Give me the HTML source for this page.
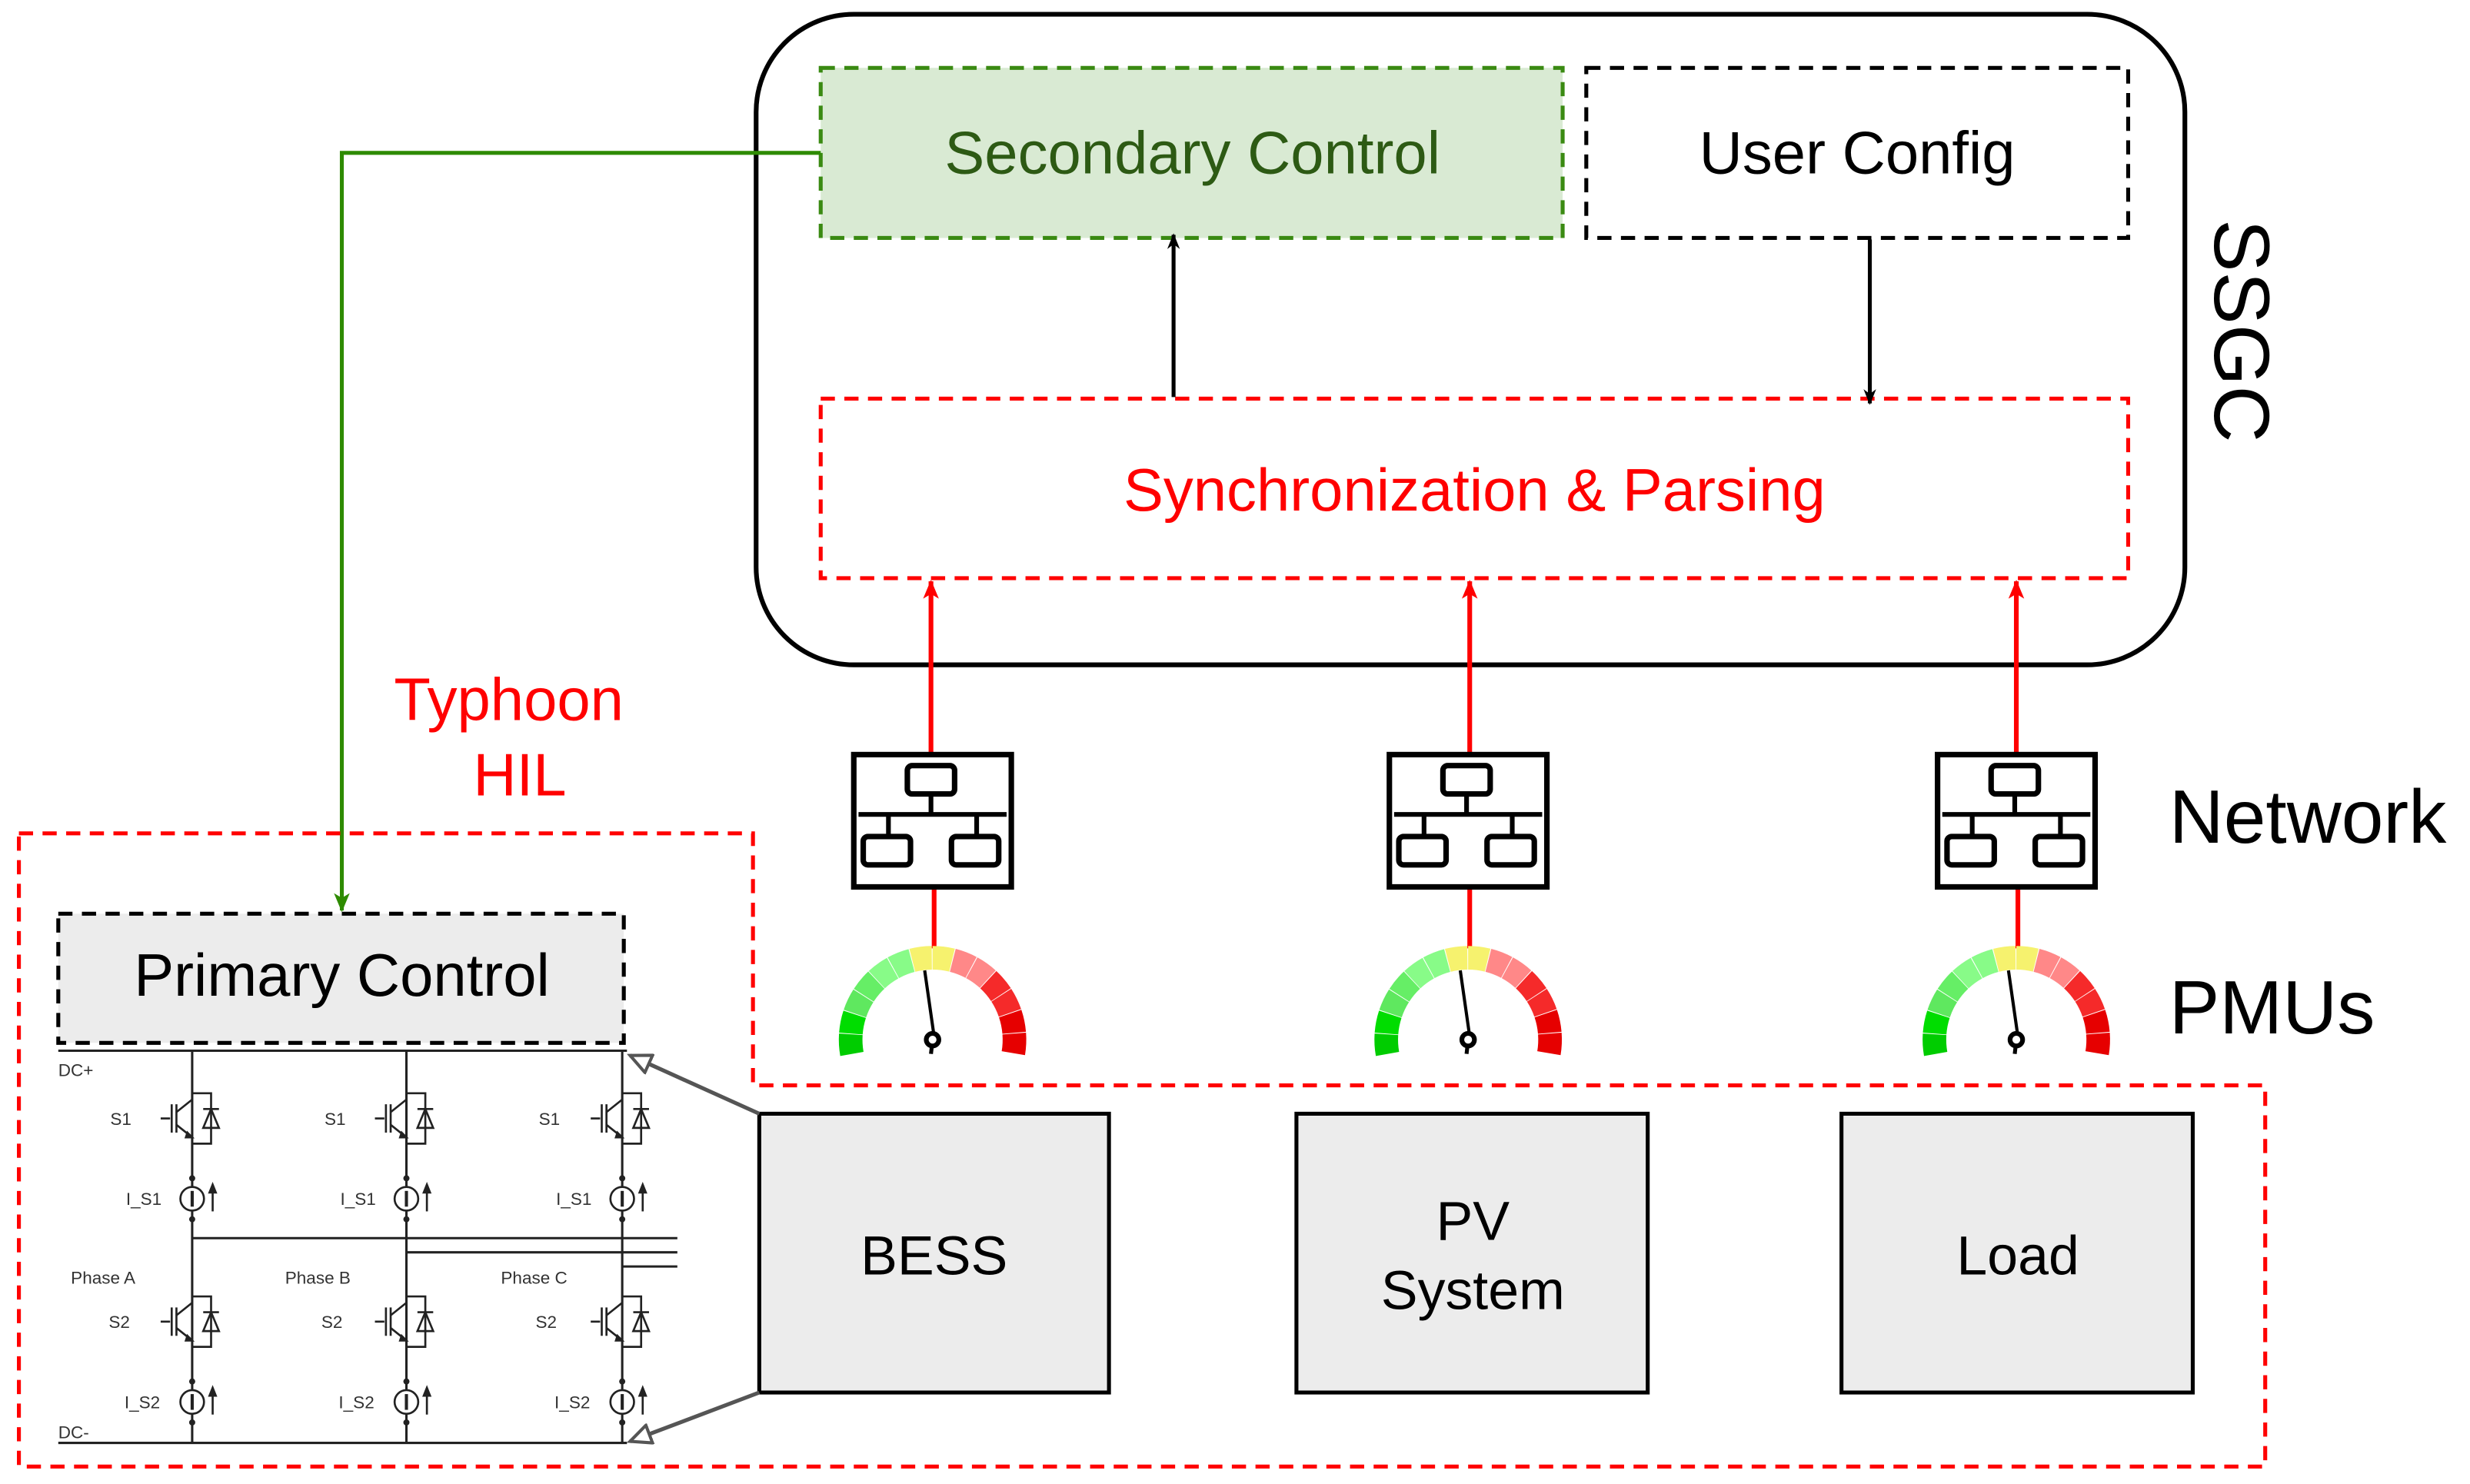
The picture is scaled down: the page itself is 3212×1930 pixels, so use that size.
<!DOCTYPE html>
<html><head><meta charset="utf-8"><style>html,body{margin:0;padding:0;background:#fff}svg{display:block}</style></head>
<body>
<svg width="3212" height="1930" viewBox="0 0 1568 942" xmlns="http://www.w3.org/2000/svg" font-family="'Liberation Sans', sans-serif">
<defs>
<marker id="ab" markerWidth="10" markerHeight="10" refX="9" refY="5" orient="auto" markerUnits="userSpaceOnUse"><path d="M0,1 L10,5 L0,9 L3,5z" fill="#000"/></marker>
<marker id="ar" markerWidth="12" markerHeight="12" refX="11" refY="6" orient="auto" markerUnits="userSpaceOnUse"><path d="M0,1 L12,6 L0,11 L3,6z" fill="#f00"/></marker>
<marker id="ag" markerWidth="12" markerHeight="12" refX="11" refY="6" orient="auto" markerUnits="userSpaceOnUse"><path d="M0,1 L12,6 L0,11 L3,6z" fill="#2e8b00"/></marker>
<marker id="ao" markerWidth="16" markerHeight="14" refX="14" refY="7" orient="auto" markerUnits="userSpaceOnUse"><path d="M1,1 L14,7 L1,13z" fill="#fff" stroke="#555" stroke-width="2"/></marker>
<g id="net">
<rect x="-50" y="-42" width="100" height="84" fill="#fff" stroke="#000" stroke-width="3.5"/>
<rect x="-16" y="-35" width="30" height="18" rx="3" fill="none" stroke="#000" stroke-width="3.5"/>
<line x1="-1" y1="-17" x2="-1" y2="-4" stroke="#000" stroke-width="3"/>
<line x1="-47" y1="-4" x2="47" y2="-4" stroke="#000" stroke-width="3"/>
<line x1="-28" y1="-4" x2="-28" y2="10" stroke="#000" stroke-width="3"/>
<line x1="28" y1="-4" x2="28" y2="10" stroke="#000" stroke-width="3"/>
<rect x="-44" y="10" width="30" height="18" rx="3" fill="none" stroke="#000" stroke-width="3.5"/>
<rect x="12" y="10" width="30" height="18" rx="3" fill="none" stroke="#000" stroke-width="3.5"/>
</g>
<g id="gauge" fill="none" stroke-width="15">
<circle r="52" stroke="#00cc00" stroke-dasharray="12.5 400" transform="rotate(170)"/>
<circle r="52" stroke="#00dd00" stroke-dasharray="12.5 400" transform="rotate(184.3)"/>
<circle r="52" stroke="#5fe85f" stroke-dasharray="12.5 400" transform="rotate(198.6)"/>
<circle r="52" stroke="#66ee66" stroke-dasharray="12.5 400" transform="rotate(212.9)"/>
<circle r="52" stroke="#88fb88" stroke-dasharray="12.5 400" transform="rotate(227.1)"/>
<circle r="52" stroke="#88fb88" stroke-dasharray="12.5 400" transform="rotate(241.4)"/>
<circle r="52" stroke="#f6f26e" stroke-dasharray="12.5 400" transform="rotate(255.7)"/>
<circle r="52" stroke="#f6f26e" stroke-dasharray="12.5 400" transform="rotate(270)"/>
<circle r="52" stroke="#ff8888" stroke-dasharray="12.5 400" transform="rotate(284.3)"/>
<circle r="52" stroke="#ff8888" stroke-dasharray="12.5 400" transform="rotate(298.6)"/>
<circle r="52" stroke="#f52a2a" stroke-dasharray="12.5 400" transform="rotate(312.9)"/>
<circle r="52" stroke="#f52a2a" stroke-dasharray="12.5 400" transform="rotate(327.1)"/>
<circle r="52" stroke="#e60000" stroke-dasharray="12.5 400" transform="rotate(341.4)"/>
<circle r="52" stroke="#e60000" stroke-dasharray="12.5 400" transform="rotate(355.7)"/>
<path d="M-5,-44 L1,-2" stroke="#000" stroke-width="2"/>
<path d="M0,0 L-1,9" stroke="#000" stroke-width="2.5"/>
<circle r="4" fill="#fff" stroke="#000" stroke-width="3"/>
</g>
<g id="igbt" fill="none" stroke="#222" stroke-width="1.3">
<line x1="-20" y1="0" x2="-14" y2="0"/>
<line x1="-13" y1="-9" x2="-13" y2="9"/>
<line x1="-10" y1="-9" x2="-10" y2="9"/>
<path d="M-10,-4 L0,-12 M-10,4 L0,12"/>
<path d="M0,-16 L12,-16 L12,16 L0,16"/>
<path d="M7,6 L17,6 L12,-6z"/>
<line x1="7" y1="-6" x2="17" y2="-6"/>
<path d="M-3,9 L0,12 L-4,12z" fill="#222"/>
</g>
<g id="isrc" fill="none" stroke="#222" stroke-width="1.3">
<circle r="7.5" fill="#fff"/>
<line x1="0" y1="-5" x2="0" y2="5" stroke-width="2"/>
<line x1="13" y1="8" x2="13" y2="-6"/>
<path d="M11,-4 L13,-9 L15,-4z" fill="#222"/>
<circle cx="0" cy="-13" r="1.3" fill="#222"/>
<circle cx="0" cy="13" r="1.3" fill="#222"/>
</g>
</defs>

<!-- SSGC -->
<rect x="480" y="9" width="907" height="413" rx="62" fill="#fff" stroke="#000" stroke-width="3"/>
<rect x="521" y="43" width="471" height="108" fill="#d9ead3" stroke="#3a8a12" stroke-width="2.5" stroke-dasharray="9 6"/>
<text x="757" y="110" font-size="38" fill="#2d5a14" text-anchor="middle">Secondary Control</text>
<rect x="1007" y="43" width="344" height="108" fill="#fff" stroke="#000" stroke-width="2.5" stroke-dasharray="9 6"/>
<text x="1179" y="110" font-size="38" fill="#000" text-anchor="middle">User Config</text>
<rect x="521" y="253" width="830" height="114" fill="none" stroke="#f00" stroke-width="2.5" stroke-dasharray="9 6"/>
<text x="936" y="324" font-size="38" fill="#f00" text-anchor="middle">Synchronization &amp; Parsing</text>
<text transform="translate(1406,210) rotate(90)" font-size="50" text-anchor="middle" fill="#000">SSGC</text>
<line x1="745" y1="252" x2="745" y2="149" stroke="#000" stroke-width="2.5" marker-end="url(#ab)"/>
<line x1="1187" y1="152" x2="1187" y2="256" stroke="#000" stroke-width="2.5" marker-end="url(#ab)"/>

<!-- green line -->
<polyline points="521,97 217,97 217,578" fill="none" stroke="#2e8b00" stroke-width="2.5" marker-end="url(#ag)"/>

<text x="323" y="457" font-size="38" fill="#f00" text-anchor="middle">Typhoon</text>
<text x="330" y="505" font-size="38" fill="#f00" text-anchor="middle">HIL</text>

<!-- red dashed region -->
<polygon points="12,529 478,529 478,689 1438,689 1438,931 12,931" fill="none" stroke="#f00" stroke-width="2.5" stroke-dasharray="9 6"/>

<!-- network and gauges -->
<g stroke="#f00" stroke-width="3">
<line x1="591" y1="479" x2="591" y2="369" marker-end="url(#ar)"/>
<line x1="933" y1="479" x2="933" y2="369" marker-end="url(#ar)"/>
<line x1="1280" y1="479" x2="1280" y2="369" marker-end="url(#ar)"/>
<line x1="593" y1="564" x2="593" y2="602"/>
<line x1="933" y1="564" x2="933" y2="602"/>
<line x1="1281" y1="564" x2="1281" y2="602"/>
</g>
<use href="#net" x="592" y="521"/>
<use href="#net" x="932" y="521"/>
<use href="#net" x="1280" y="521"/>
<use href="#gauge" x="592" y="660"/>
<use href="#gauge" x="932" y="660"/>
<use href="#gauge" x="1280" y="660"/>
<text x="1377" y="535" font-size="48" fill="#000">Network</text>
<text x="1377" y="656" font-size="48" fill="#000">PMUs</text>

<!-- boxes -->
<rect x="482" y="707" width="222" height="177" fill="#ececec" stroke="#000" stroke-width="2.5"/>
<text x="593" y="809" font-size="35" text-anchor="middle">BESS</text>
<rect x="823" y="707" width="223" height="177" fill="#ececec" stroke="#000" stroke-width="2.5"/>
<text x="935" y="787" font-size="35" text-anchor="middle">PV</text>
<text x="935" y="831" font-size="35" text-anchor="middle">System</text>
<rect x="1169" y="707" width="223" height="177" fill="#ececec" stroke="#000" stroke-width="2.5"/>
<text x="1281" y="809" font-size="35" text-anchor="middle">Load</text>

<!-- primary control -->
<rect x="37" y="580" width="359" height="82" fill="#ececec" stroke="#000" stroke-width="2.5" stroke-dasharray="9 6"/>
<text x="217" y="632" font-size="38" text-anchor="middle">Primary Control</text>

<!-- circuit -->
<g stroke="#222" stroke-width="1.5" fill="none">
<line x1="37" y1="667" x2="398" y2="667"/>
<line x1="37" y1="916" x2="398" y2="916"/>
<line x1="122" y1="667" x2="122" y2="916"/>
<line x1="258" y1="667" x2="258" y2="916"/>
<line x1="395" y1="667" x2="395" y2="916"/>
<line x1="122" y1="786" x2="430" y2="786"/>
<line x1="258" y1="795" x2="430" y2="795"/>
<line x1="395" y1="804" x2="430" y2="804"/>
</g>
<g>
<use href="#igbt" x="122" y="710"/><use href="#igbt" x="258" y="710"/><use href="#igbt" x="395" y="710"/>
<use href="#igbt" x="122" y="839"/><use href="#igbt" x="258" y="839"/><use href="#igbt" x="395" y="839"/>
<use href="#isrc" x="122" y="761"/><use href="#isrc" x="258" y="761"/><use href="#isrc" x="395" y="761"/>
<use href="#isrc" x="122" y="890"/><use href="#isrc" x="258" y="890"/><use href="#isrc" x="395" y="890"/>
</g>
<g font-size="11" fill="#333">
<text x="37" y="683">DC+</text><text x="37" y="913">DC-</text>
<text x="70" y="714">S1</text><text x="206" y="714">S1</text><text x="342" y="714">S1</text>
<text x="69" y="843">S2</text><text x="204" y="843">S2</text><text x="340" y="843">S2</text>
<text x="80" y="765">I_S1</text><text x="216" y="765">I_S1</text><text x="353" y="765">I_S1</text>
<text x="79" y="894">I_S2</text><text x="215" y="894">I_S2</text><text x="352" y="894">I_S2</text>
<text x="45" y="815">Phase A</text><text x="181" y="815">Phase B</text><text x="318" y="815">Phase C</text>
</g>
<line x1="482" y1="707" x2="400" y2="670" stroke="#555" stroke-width="2.5" marker-end="url(#ao)"/>
<line x1="482" y1="884" x2="400" y2="915" stroke="#555" stroke-width="2.5" marker-end="url(#ao)"/>
</svg>
</body></html>
